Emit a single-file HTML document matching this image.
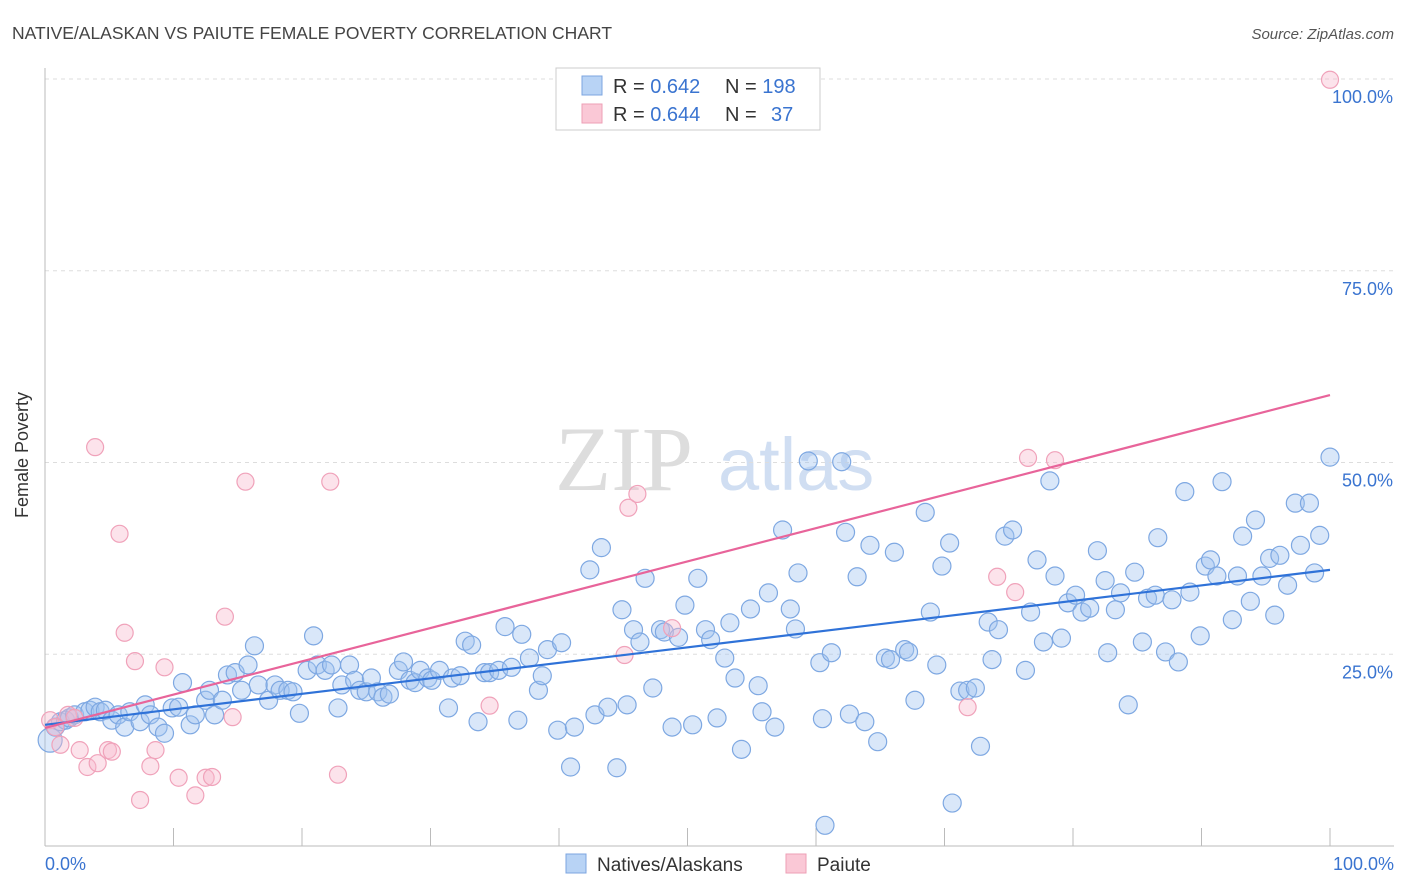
<!DOCTYPE html>
<html><head><meta charset="utf-8"><style>
body{margin:0;background:#fff;font-family:"Liberation Sans",sans-serif;}
svg{display:block}
</style></head><body>
<svg id="chart" width="1406" height="892" xmlns="http://www.w3.org/2000/svg">
<text x="12" y="39" font-size="17.5" fill="#444">NATIVE/ALASKAN VS PAIUTE FEMALE POVERTY CORRELATION CHART</text>
<text x="1394" y="39" font-size="15" fill="#555" font-style="italic" text-anchor="end">Source: ZipAtlas.com</text>
<g><text x="555" y="490" font-size="92" fill="#ddd" font-family="Liberation Serif,serif">ZIP</text><text x="718" y="490" font-size="74" fill="#d0def2">atlas</text></g>
<g id="grid"></g>
<g id="axes"></g>
<g id="pts"></g>
<g id="trend"></g>
<text x="28" y="455" font-size="18" fill="#333" text-anchor="middle" transform="rotate(-90 28 455)">Female Poverty</text>
<g>
<rect x="556" y="68" width="264" height="62" fill="#fff" stroke="#ccc"/>
<rect x="582" y="76" width="20" height="19" fill="#b8d3f5" stroke="#7ca6e0"/>
<rect x="582" y="104" width="20" height="19" fill="#fac8d6" stroke="#ee9fb6"/>
<text x="613" y="93" font-size="20" fill="#333">R = <tspan fill="#3a74d0">0.642</tspan><tspan x="725">N = </tspan><tspan fill="#3a74d0">198</tspan></text>
<text x="613" y="121" font-size="20" fill="#333">R = <tspan fill="#3a74d0">0.644</tspan><tspan x="725">N = </tspan><tspan x="771" fill="#3a74d0">37</tspan></text>
</g>
<g>
<rect x="566" y="854" width="20" height="19" fill="#b8d3f5" stroke="#7ca6e0"/>
<text x="597" y="871" font-size="19" fill="#333">Natives/Alaskans</text>
<rect x="786" y="854" width="20" height="19" fill="#fac8d6" stroke="#ee9fb6"/>
<text x="817" y="871" font-size="19" fill="#333">Paiute</text>
</g>
</svg>
<script>
const yTicks=[25,50,75,100];
const yTickLabels=["25.0%","50.0%","75.0%","100.0%"];
const xEndLabels=["0.0%","100.0%"];
const blueX=[0.4,0.8,1.2,1.6,1.9,2.3,3.1,3.5,3.9,4.3,4.7,5.2,5.7,6.2,6.6,7.4,7.8,8.2,8.8,9.3,9.9,10.4,10.7,11.3,11.7,12.5,12.8,13.2,13.8,14.2,14.8,15.3,15.8,16.3,16.6,17.4,17.9,18.3,18.9,19.3,19.8,20.4,20.9,21.2,21.8,22.3,22.8,23.1,23.7,24.1,24.5,25.0,25.4,25.9,26.3,26.8,27.5,27.9,28.4,28.8,29.2,29.8,30.1,30.7,31.4,31.7,32.3,32.7,33.2,33.7,34.2,34.6,35.3,35.8,36.3,36.8,37.1,37.7,38.4,38.7,39.1,39.9,40.2,40.9,41.2,42.4,42.8,43.3,43.8,44.5,44.9,45.3,45.8,46.3,46.7,47.3,47.9,48.2,48.8,49.3,49.8,50.4,50.8,51.4,51.8,52.3,52.9,53.3,53.7,54.2,54.9,55.5,55.8,56.3,56.8,57.4,58.0,58.4,58.6,59.4,60.3,60.5,60.7,61.2,62.0,62.3,62.6,63.2,63.8,64.2,64.8,65.4,65.8,66.1,66.9,67.2,67.7,68.5,68.9,69.4,69.8,70.4,70.6,71.2,71.8,72.4,72.8,73.4,73.7,74.2,74.7,75.3,76.3,76.7,77.2,77.7,78.2,78.6,79.1,79.6,80.2,80.7,81.3,81.9,82.5,82.7,83.3,83.7,84.3,84.8,85.4,85.8,86.4,86.6,87.2,87.7,88.2,88.7,89.1,89.9,90.3,90.7,91.2,91.6,92.4,92.8,93.2,93.8,94.2,94.7,95.3,95.7,96.1,96.7,97.3,97.7,98.4,98.8,99.2,100];
const blueY=[13.8,15.5,16.2,16.4,16.7,17.1,17.5,17.7,18.1,17.5,17.7,16.4,17.1,15.5,17.5,16.2,18.4,17.1,15.5,14.7,18.0,18.1,21.3,15.8,17.1,19.0,20.3,17.1,19.0,22.3,22.6,20.3,23.6,26.1,21.0,19.0,21.0,20.3,20.3,20.1,17.3,22.9,27.4,23.6,22.9,23.6,18.0,21.0,23.6,21.6,20.3,20.1,21.9,20.1,19.4,19.8,22.9,24.0,21.6,21.3,22.9,21.9,21.6,22.9,18.0,21.9,22.2,26.7,26.2,16.2,22.6,22.6,22.9,28.6,23.3,16.4,27.6,24.5,20.3,22.2,25.6,15.1,26.5,10.3,15.5,36.0,17.1,38.9,18.1,10.2,30.8,18.4,28.2,26.6,34.9,20.6,28.2,27.9,15.5,27.2,31.4,15.8,34.9,28.2,26.9,16.7,24.5,29.1,21.9,12.6,30.9,20.9,17.5,33.0,15.5,41.2,30.9,28.3,35.6,50.2,23.9,16.6,2.7,25.2,50.1,40.9,17.2,35.1,16.2,39.2,13.6,24.5,24.3,38.3,25.6,25.3,19.0,43.5,30.5,23.6,36.5,39.5,5.6,20.2,20.3,20.6,13.0,29.2,24.3,28.2,40.4,41.2,22.9,30.5,37.3,26.6,47.6,35.2,27.1,31.7,32.7,30.5,31.0,38.5,34.6,25.2,30.8,33.0,18.4,35.7,26.6,32.3,32.7,40.2,25.3,32.1,24.0,46.2,33.1,27.4,36.5,37.3,35.2,47.5,29.5,35.2,40.4,31.9,42.5,35.2,37.5,30.1,37.9,34.0,44.7,39.2,44.7,35.6,40.5,50.7];
const pinkX=[0.4,0.8,1.2,1.8,2.3,2.7,3.3,3.9,4.1,4.9,5.2,5.8,6.2,7.0,7.4,8.2,8.6,9.3,10.4,11.7,12.5,13.0,14.0,14.6,15.6,22.2,22.8,34.6,45.1,45.4,46.1,48.8,71.8,74.1,75.5,76.5,78.6,100];
const pinkY=[16.4,15.5,13.2,17.1,16.7,12.5,10.3,52.0,10.8,12.5,12.3,40.7,27.8,24.1,6.0,10.4,12.5,23.3,8.9,6.6,8.9,9.0,29.9,16.8,47.5,47.5,9.3,18.3,24.9,44.1,45.9,28.4,18.1,35.1,33.1,50.6,50.3,99.9];
const blueTrend=[15.8,36.0];
const pinkTrend=[15.4,58.8];

const X=v=>45+v*12.85, Y=v=>846-v*7.67;
const NS="http://www.w3.org/2000/svg";
function mk(tag,attrs,parent){const e=document.createElementNS(NS,tag);for(const k in attrs)e.setAttribute(k,attrs[k]);parent.appendChild(e);return e;}
const grid=document.getElementById('grid'),axes=document.getElementById('axes'),pts=document.getElementById('pts'),trend=document.getElementById('trend');
yTicks.forEach((t,i)=>{
  const l=mk('line',{x1:45,x2:1394,y1:Y(t),y2:Y(t),stroke:'#ddd','stroke-dasharray':'4,4'},grid);
  
  
  const tx=mk('text',{x:1393,y:Y(t)+24,'font-size':18,fill:'#3a74d0','text-anchor':'end'},grid);
  tx.textContent=yTickLabels[i];
  
  
});
const ax=mk('line',{x1:45,x2:1394,y1:846,y2:846,stroke:'#bbb'},axes);


const ay=mk('line',{x1:45,x2:45,y1:68,y2:846,stroke:'#bbb'},axes);


for(let i=0;i<=10;i++){
  const t=mk('line',{x1:X(i*10),x2:X(i*10),y1:828,y2:846,stroke:'#bbb'},axes);
  
  
}
[[0,'start',45],[100,'end',1394]].forEach((d,i)=>{
  const t=mk('text',{x:d[2],y:870,'font-size':18,fill:'#3a74d0','text-anchor':d[1]},axes);
  t.textContent=xEndLabels[i];
  
  
});
blueX.forEach((v,i)=>{
  const c=mk('circle',{cx:X(v),cy:Y(blueY[i]),r:i===0?12:9,fill:'rgba(160,196,240,0.4)',stroke:'#7ea8e2','stroke-width':1.2},pts);
  
  
});
pinkX.forEach((v,i)=>{
  const c=mk('circle',{cx:X(v),cy:Y(pinkY[i]),r:8.5,fill:'rgba(248,185,205,0.4)',stroke:'#f0a2ba','stroke-width':1.2},pts);
  
  
});
const bl=mk('line',{x1:X(0),y1:Y(blueTrend[0]),x2:X(100),y2:Y(blueTrend[1]),stroke:'#2f72d8','stroke-width':2.2},trend);


const pl=mk('line',{x1:X(0),y1:Y(pinkTrend[0]),x2:X(100),y2:Y(pinkTrend[1]),stroke:'#e8649a','stroke-width':2.2},trend);


</script>
</body></html>
